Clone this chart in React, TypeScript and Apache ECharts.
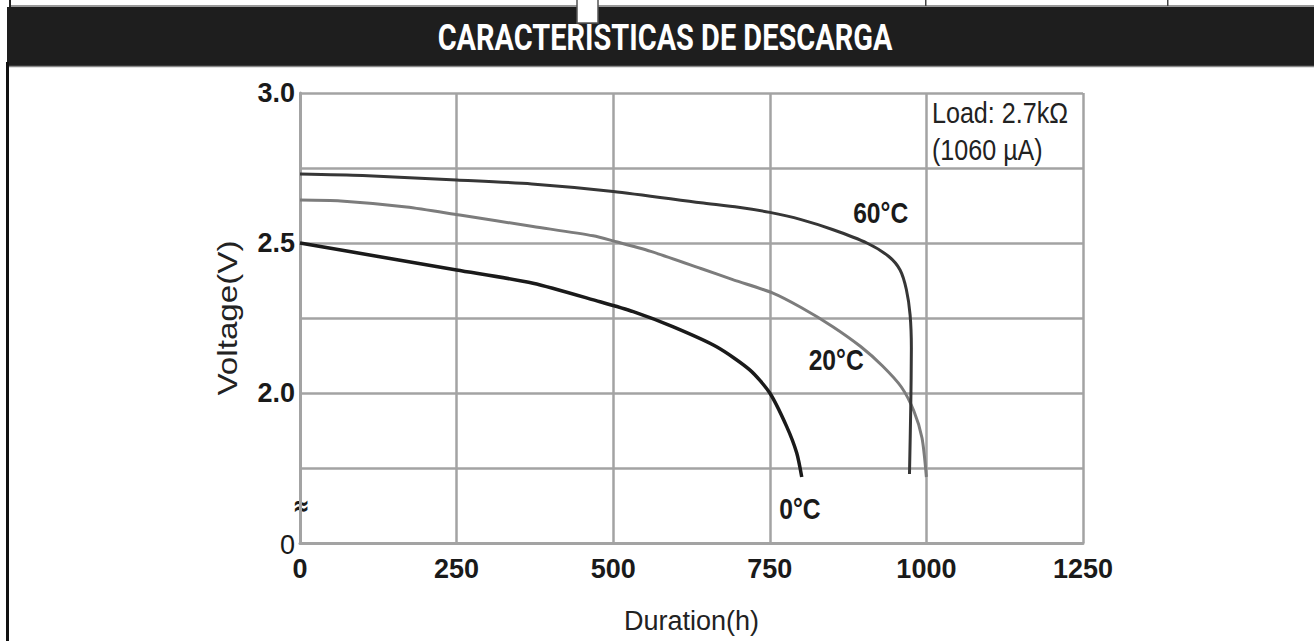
import React, { useEffect, useRef } from "react";
import * as echarts from "echarts";

const titleText = "CARACTERÍSTICAS DE DESCARGA";
const xAxisName = "Duration(h)";
const yAxisName = "Voltage(V)";
const loadLines = ["Load: 2.7kΩ", "(1060 µA)"];
const xTicks = [0, 250, 500, 750, 1000, 1250];
const yLabelValues = [1.5, 2.0, 2.5, 3.0];
const yLabelTexts = ["0", "2.0", "2.5", "3.0"];
const breakMark = "≈";

const series60 = [
  [0, 2.73], [100, 2.725], [250, 2.71], [370, 2.697], [500, 2.672], [640, 2.634],
  [700, 2.619], [750, 2.602], [800, 2.578], [850, 2.545], [905, 2.5], [940, 2.455],
  [958, 2.41], [968, 2.345], [974, 2.26], [976, 2.15], [975, 1.95], [973, 1.73],
];
const series20 = [
  [0, 2.643], [65, 2.64], [170, 2.62], [255, 2.593], [372, 2.555], [468, 2.524],
  [500, 2.507], [560, 2.472], [640, 2.415], [692, 2.377], [755, 2.333], [800, 2.285],
  [850, 2.222], [895, 2.155], [930, 2.09], [960, 2.02], [980, 1.94], [993, 1.85], [1000, 1.72],
];
const series0 = [
  [0, 2.5], [125, 2.455], [250, 2.41], [372, 2.366], [479, 2.304], [532, 2.271],
  [595, 2.221], [665, 2.154], [718, 2.077], [750, 2.0], [777, 1.888], [793, 1.8], [801, 1.72],
];
const curveLabels: [number, number, string][] = [
  [927, 2.6, "60°C"],
  [856, 2.11, "20°C"],
  [798, 1.613, "0°C"],
];

const SANS = "'Liberation Sans', Arial, sans-serif";

function measure(text: string, font: string) {
  const c = document.createElement("canvas").getContext("2d")!;
  c.font = font;
  return c.measureText(text).width;
}

export default function App() {
  const ref = useRef<HTMLDivElement>(null);
  useEffect(() => {
    if (!ref.current) return;
    const chart = echarts.init(ref.current, undefined, { renderer: "svg" });
    const titleW = measure(titleText, "bold 36px Roboto");
    const voltW = measure(yAxisName, "27px 'Liberation Sans'");
    const loadW = measure(loadLines[0], "29px 'Liberation Sans'");
    const gridColor = "#a3a3a3";
    const option: any = {
      animation: false,
      backgroundColor: "#ffffff",
      grid: { left: 300, top: 93, width: 783, height: 450 },
      xAxis: {
        type: "value",
        min: xTicks[0],
        max: xTicks[xTicks.length - 1],
        interval: xTicks[1] - xTicks[0],
        name: xAxisName,
        nameLocation: "middle",
        nameGap: 64,
        nameTextStyle: { fontSize: 27, fontFamily: SANS, color: "#222" },
        axisLine: { show: true, lineStyle: { color: gridColor, width: 3 } },
        axisTick: { show: false },
        splitLine: { show: true, lineStyle: { color: gridColor, width: 2.5 } },
        axisLabel: {
          fontSize: 27,
          fontWeight: "bold",
          fontFamily: SANS,
          color: "#1a1a1a",
          margin: 12,
          formatter: (v: number) => String(v),
        },
      },
      yAxis: {
        type: "value",
        min: 1.5,
        max: 3.0,
        interval: 0.25,
        axisLine: { show: true, lineStyle: { color: gridColor, width: 3 } },
        axisTick: { show: false },
        splitLine: { show: true, lineStyle: { color: gridColor, width: 2.5 } },
        axisLabel: {
          fontSize: 27,
          fontWeight: "bold",
          fontFamily: SANS,
          color: "#1a1a1a",
          margin: 5,
          formatter: (v: number) => {
            const i = yLabelValues.findIndex((x) => Math.abs(x - v) < 1e-6);
            if (i < 0) return "";
            return i === 0 ? "{z|" + yLabelTexts[i] + "}" : yLabelTexts[i];
          },
          rich: {
            z: { fontSize: 27, fontWeight: "normal", fontFamily: SANS, color: "#1a1a1a", padding: [4, 0, 0, 0] },
          },
        },
      },
      series: [
        {
          name: "60°C",
          type: "line",
          data: series60,
          showSymbol: false,
          smooth: 0.25,
          lineStyle: { color: "#363636", width: 3 },
          z: 3,
        },
        {
          name: "20°C",
          type: "line",
          data: series20,
          showSymbol: false,
          smooth: 0.25,
          lineStyle: { color: "#7c7c7c", width: 3 },
          z: 2,
        },
        {
          name: "0°C",
          type: "line",
          data: series0,
          showSymbol: false,
          smooth: 0.25,
          lineStyle: { color: "#1a1a1a", width: 3.5 },
          z: 3,
        },
      ],
    };
    chart.setOption(option);

    const labelGraphics = curveLabels.map(([x, y, t]) => {
      const p = chart.convertToPixel({ gridIndex: 0 }, [x, y]) as number[];
      return {
        type: "text",
        x: p[0],
        y: p[1],
        scaleX: 0.85,
        z: 10,
        style: {
          text: t,
          fontSize: 29,
          fontWeight: "bold",
          fontFamily: SANS,
          fill: "#1a1a1a",
          align: "center",
          verticalAlign: "middle",
        },
      };
    });

    chart.setOption({
      graphic: [
        { type: "line", shape: { x1: 9, y1: 6, x2: 1314, y2: 6 }, style: { stroke: "#777", lineWidth: 1.5 } },
        { type: "rect", shape: { x: 7, y: 7, width: 1307, height: 59 }, style: { fill: "#1e1e1e" } },
        { type: "line", shape: { x1: 7, y1: 66.5, x2: 1314, y2: 66.5 }, style: { stroke: "#888", lineWidth: 1.5 } },
        { type: "rect", shape: { x: 6, y: 62, width: 3, height: 579 }, style: { fill: "#111" } },
        { type: "rect", shape: { x: 9, y: 0, width: 2, height: 7 }, style: { fill: "#222" } },
        { type: "rect", shape: { x: 577, y: -1, width: 21, height: 24 }, style: { fill: "#fff", stroke: "#555", lineWidth: 1.5 } },
        { type: "rect", shape: { x: 925, y: 0, width: 1.5, height: 6 }, style: { fill: "#444" } },
        { type: "rect", shape: { x: 1167, y: 0, width: 1.5, height: 6 }, style: { fill: "#444" } },
        {
          type: "text",
          x: 665,
          y: 38,
          scaleX: 455 / titleW,
          style: {
            text: titleText,
            fontSize: 36,
            fontWeight: "bold",
            fontFamily: "Roboto",
            fill: "#ffffff",
            align: "center",
            verticalAlign: "middle",
          },
        },
        {
          type: "text",
          x: 228,
          y: 318,
          rotation: Math.PI / 2,
          scaleX: 155 / voltW,
          style: {
            text: yAxisName,
            fontSize: 27,
            fontFamily: SANS,
            fill: "#222",
            align: "center",
            verticalAlign: "middle",
          },
        },
        ...loadLines.map((t, i) => ({
          type: "text",
          x: 932,
          y: 113 + i * 37,
          scaleX: 136 / loadW,
          style: {
            text: t,
            fontSize: 29,
            fontFamily: SANS,
            fill: "#222",
            align: "left",
            verticalAlign: "middle",
          },
        })),
        {
          type: "text",
          x: 301,
          y: 505,
          scaleY: 1.4,
          style: {
            text: breakMark,
            fontSize: 20,
            fontWeight: "bold",
            fontFamily: "'DejaVu Sans', sans-serif",
            fill: "#1a1a1a",
            align: "center",
            verticalAlign: "middle",
          },
        },
        ...labelGraphics,
      ],
    });
    return () => chart.dispose();
  }, []);
  return (
    <div
      ref={ref}
      style={{ position: "fixed", left: 0, top: 0, width: 1314, height: 641, background: "#fff" }}
    />
  );
}
